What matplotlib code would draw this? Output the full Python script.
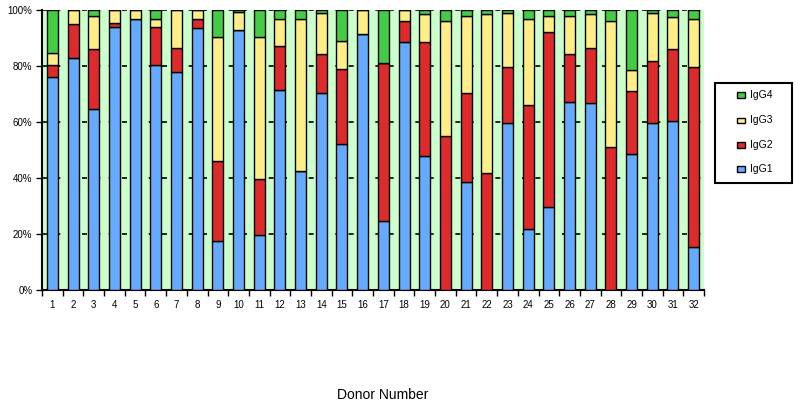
import matplotlib
matplotlib.use("Agg")
import matplotlib.pyplot as plt
from matplotlib.patches import Rectangle
import numpy as np

plt.rcParams['font.family'] = ['Liberation Sans', 'DejaVu Sans']

donors = [str(i) for i in range(1, 33)]
igg1 = [76.1, 82.9, 64.8, 94.0, 96.7, 80.3, 77.9, 93.4, 17.4, 92.8, 19.7, 71.6, 42.4, 70.3, 52.3, 91.6,
        24.8, 88.5, 48.0, 0.0, 38.5, 0.0, 59.8, 21.7, 29.8, 67.3, 66.7, 0.0, 48.6, 59.8, 60.4, 15.5]
igg2 = [4.1, 12.0, 21.4, 1.5, 0.0, 13.7, 8.7, 3.3, 28.7, 0.0, 20.0, 15.6, 0.0, 13.9, 26.8, 0.0,
        56.3, 7.6, 40.5, 54.9, 31.9, 41.8, 20.0, 44.5, 62.4, 16.9, 19.9, 51.1, 22.4, 21.9, 25.8, 64.3]
igg3 = [4.6, 5.1, 11.8, 4.5, 3.3, 2.7, 13.4, 3.3, 44.2, 6.4, 50.6, 9.5, 54.3, 14.8, 10.0, 8.4,
        0.0, 3.9, 10.1, 41.2, 27.6, 56.8, 19.2, 30.5, 5.8, 13.8, 12.0, 45.0, 7.5, 17.3, 11.2, 16.9]
igg4 = [15.2, 0.0, 2.0, 0.0, 0.0, 3.3, 0.0, 0.0, 9.7, 0.8, 9.7, 3.3, 3.3, 1.0, 10.9, 0.0,
        18.9, 0.0, 1.4, 3.9, 2.0, 1.4, 1.0, 3.3, 2.0, 2.0, 1.4, 3.9, 21.5, 1.0, 2.6, 3.3]
series = [("IgG1", igg1, "#66aaff"), ("IgG2", igg2, "#dd2a2a"),
          ("IgG3", igg3, "#ffee88"), ("IgG4", igg4, "#44cc44")]

W, H = 800, 407
fig = plt.figure(figsize=(W / 100, H / 100), dpi=100)
ax = fig.add_axes([42/W, 1-290/H, 662/W, 280/H])
ax.set_facecolor("#ccffcc")

x = np.arange(len(donors))
bottom = np.zeros(len(donors))
for name, vals, col in series:
    v = np.array(vals)
    ax.bar(x, v, bottom=bottom, width=0.53, color=col, edgecolor="black", linewidth=1.0, zorder=3)
    bottom += v

ax.set_xlim(-0.5, len(donors) - 0.5)
ax.set_ylim(0, 100)
ax.set_yticks([0, 20, 40, 60, 80, 100])
ax.set_yticklabels([f"{t}%" for t in [0, 20, 40, 60, 80, 100]], fontsize=7)
ax.yaxis.grid(True, color="black", linestyle=(0, (3, 5)), linewidth=1.2, zorder=1)
ax.set_axisbelow(True)
ax.set_xticks(x)
ax.set_xticklabels(donors, fontsize=7)
ax.tick_params(axis="x", length=0, pad=7)
ax.set_xticks(np.arange(-0.5, len(donors)), minor=True)
ax.tick_params(axis="x", which="minor", length=4, width=1, direction="out")
ax.tick_params(axis="y", length=4, width=1, direction="out", pad=3)
for s in ["top", "right"]:
    ax.spines[s].set_visible(False)
ax.spines["left"].set_linewidth(1.5)
ax.spines["bottom"].set_linewidth(1.5)

# Legend box drawn in figure pixel coordinates
def fx(px):
    return px / W

def fy(py):
    return 1 - py / H

fig.add_artist(Rectangle((fx(715), fy(183)), fx(792) - fx(715), fy(83) - fy(183),
                         transform=fig.transFigure, facecolor="white", edgecolor="black",
                         linewidth=1.5, zorder=5))
row_y = [95, 120, 145, 169]
for (name, _, col), ry in zip(series[::-1], row_y):
    fig.add_artist(Rectangle((fx(737), fy(ry + 2.5)), 8 / W, 5 / H, transform=fig.transFigure,
                             facecolor=col, edgecolor="black", linewidth=1.0, zorder=6))
    fig.text(fx(750), fy(ry), name, ha="left", va="center", fontsize=7.5, zorder=6)

fig.text(383/W, 1-395/H, "Donor Number", ha="center", va="center", fontsize=10)

fig.savefig("out.png", dpi=100)
